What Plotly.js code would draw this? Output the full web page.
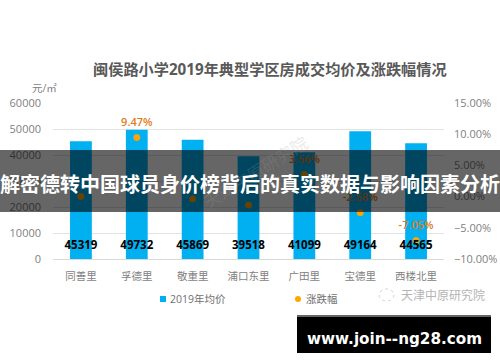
<!DOCTYPE html>
<html><head><meta charset="utf-8">
<script src="https://cdn.plot.ly/plotly-3.0.1.min.js"></script>
<style>html,body{margin:0;padding:0;background:#fff;overflow:hidden}#c{width:500px;height:362px}</style>
</head><body><div id="c"></div>
<script>
const categories=['同善里','孚德里','敬重里','浦口东里','广田里','宝德里','西楼北里'];
const avgPrice=[45319,49732,45869,39518,41099,49164,44565];
const changePct=[0.0,9.47,-0.4,-1.36,3.56,-2.58,-7.05];
const changeLabels=['','9.47%','','','3.56%','-2.58%','-7.05%'];
const priceLabelLevel=[-7.92,-7.92,-7.92,-7.92,-7.92,-7.92,-7.92];
const chartTitle='闽侯路小学2019年典型学区房成交均价及涨跌幅情况';
const overlayTitle='解密德转中国球员身价榜背后的真实数据与影响因素分析';
const footerSite='www.join--ng28.com';
const sourceName='天津中原研究院';
const unitLabel='元/㎡';
const seriesNames=['2019年均价','涨跌幅'];
const FONT='"Open Sans","Noto Sans CJK SC",sans-serif';
const GREY='#7f7f7f';
const pa=(x,y,text,size,color,extra)=>Object.assign({xref:'paper',yref:'paper',x:(x-53)/391,y:(259-y)/156,text,showarrow:false,xanchor:'center',yanchor:'middle',font:{family:FONT,size,color}},extra||{});
const traces=[
 {type:'bar',x:categories,y:avgPrice,name:seriesNames[0],marker:{color:'#00b0f0'},width:0.39,hoverinfo:'skip'},
 {type:'scatter',mode:'markers',x:categories,y:changePct,yaxis:'y2',name:seriesNames[1],
  marker:{color:'#ffa500',size:6.5,line:{color:'#e8a33a',width:0.5}},hoverinfo:'skip'},
 {type:'scatter',mode:'markers+text',x:categories,y:changePct,yaxis:'y2',showlegend:false,
  marker:{size:12,opacity:0},text:changeLabels,textposition:'top center',cliponaxis:false,
  textfont:{family:FONT,size:11,color:'#e07b20',weight:600},hoverinfo:'skip'},
 {type:'scatter',mode:'text',x:categories,y:priceLabelLevel,yaxis:'y2',text:avgPrice.map(String),textposition:'middle center',cliponaxis:false,
  textfont:{family:FONT,size:11.5,color:'#000',weight:700},hoverinfo:'skip',showlegend:false}
];
const layout={
 width:500,height:362,paper_bgcolor:'#fff',plot_bgcolor:'#fff',showlegend:false,
 margin:{l:53,r:56,t:103,b:103,pad:0},
 font:{family:FONT,color:GREY},
 xaxis:{type:'category',range:[-0.5,6.5],showgrid:false,showline:true,linecolor:'#d9d9d9',linewidth:1,ticks:'',tickfont:{size:10.5,color:GREY,family:FONT},ticklabelstandoff:7},
 yaxis:{range:[0,60000],dtick:10000,tickformat:'d',showgrid:true,gridcolor:'#e2e2e2',gridwidth:1,zeroline:false,showline:false,ticks:'',tickfont:{size:11,color:GREY,family:FONT},ticklabelstandoff:11},
 yaxis2:{overlaying:'y',side:'right',range:[-10,15],dtick:5,tickformat:'.2f',ticksuffix:'%',showgrid:false,zeroline:false,showline:false,ticks:'',tickfont:{size:11,color:GREY,family:FONT},ticklabelstandoff:9},
 shapes:[
  {type:'rect',xref:'paper',yref:'paper',x0:(0-53)/391,x1:(500-53)/391,y0:(259-212)/156,y1:(259-150)/156,fillcolor:'rgba(0,0,0,0.6)',line:{width:0},layer:'above'},
  {type:'rect',xref:'paper',yref:'paper',x0:(297-53)/391,x1:(491-53)/391,y0:(259-353)/156,y1:(259-315)/156,fillcolor:'#000',line:{width:0},layer:'above'},
  {type:'rect',xref:'paper',yref:'paper',x0:(297-53)/391,x1:(491-53)/391,y0:(259-317)/156,y1:(259-315)/156,fillcolor:'#666',line:{width:0},layer:'above'},
  {type:'rect',xref:'paper',yref:'paper',x0:(160-53)/391,x1:(166-53)/391,y0:(259-302)/156,y1:(259-296)/156,fillcolor:'#00b0f0',line:{width:0},layer:'above'},
  {type:'circle',xref:'paper',yref:'paper',x0:(295-53)/391,x1:(301-53)/391,y0:(259-302)/156,y1:(259-296)/156,fillcolor:'#ffa500',line:{width:0},layer:'above'},
  {type:'circle',xref:'paper',yref:'paper',x0:(379-53)/391,x1:(394-53)/391,y0:(259-301)/156,y1:(259-289)/156,fillcolor:'rgba(0,0,0,0)',line:{width:1,color:'#d4d4d4',dash:'dot'},layer:'above'}
 ],
 annotations:[
  pa(270,69,chartTitle,15.2,'#595959',{font:{family:FONT,size:15.2,color:'#595959',weight:700}}),
  pa(44,88,unitLabel,10.5,'#7f7f7f'),
  pa(255,172,sourceName,17,'rgba(150,150,150,0.22)',{textangle:-32}),
  pa(250,184,overlayTitle,20,'#fff',{font:{family:FONT,size:20,color:'#fff',weight:700}}),
  pa(168,299,seriesNames[0],10.5,'#6f6f6f',{xanchor:'left'}),
  pa(304,299,seriesNames[1],10.5,'#6f6f6f',{xanchor:'left'}),
  pa(442.5,295,sourceName,12,'#b5b5b5'),
  pa(394,339,footerSite,15.2,'#fff',{font:{family:'"DejaVu Sans",sans-serif',size:15.2,color:'#fff',weight:700}})
 ]
};
Plotly.newPlot('c',traces,layout,{staticPlot:true,displayModeBar:false});
</script></body></html>
